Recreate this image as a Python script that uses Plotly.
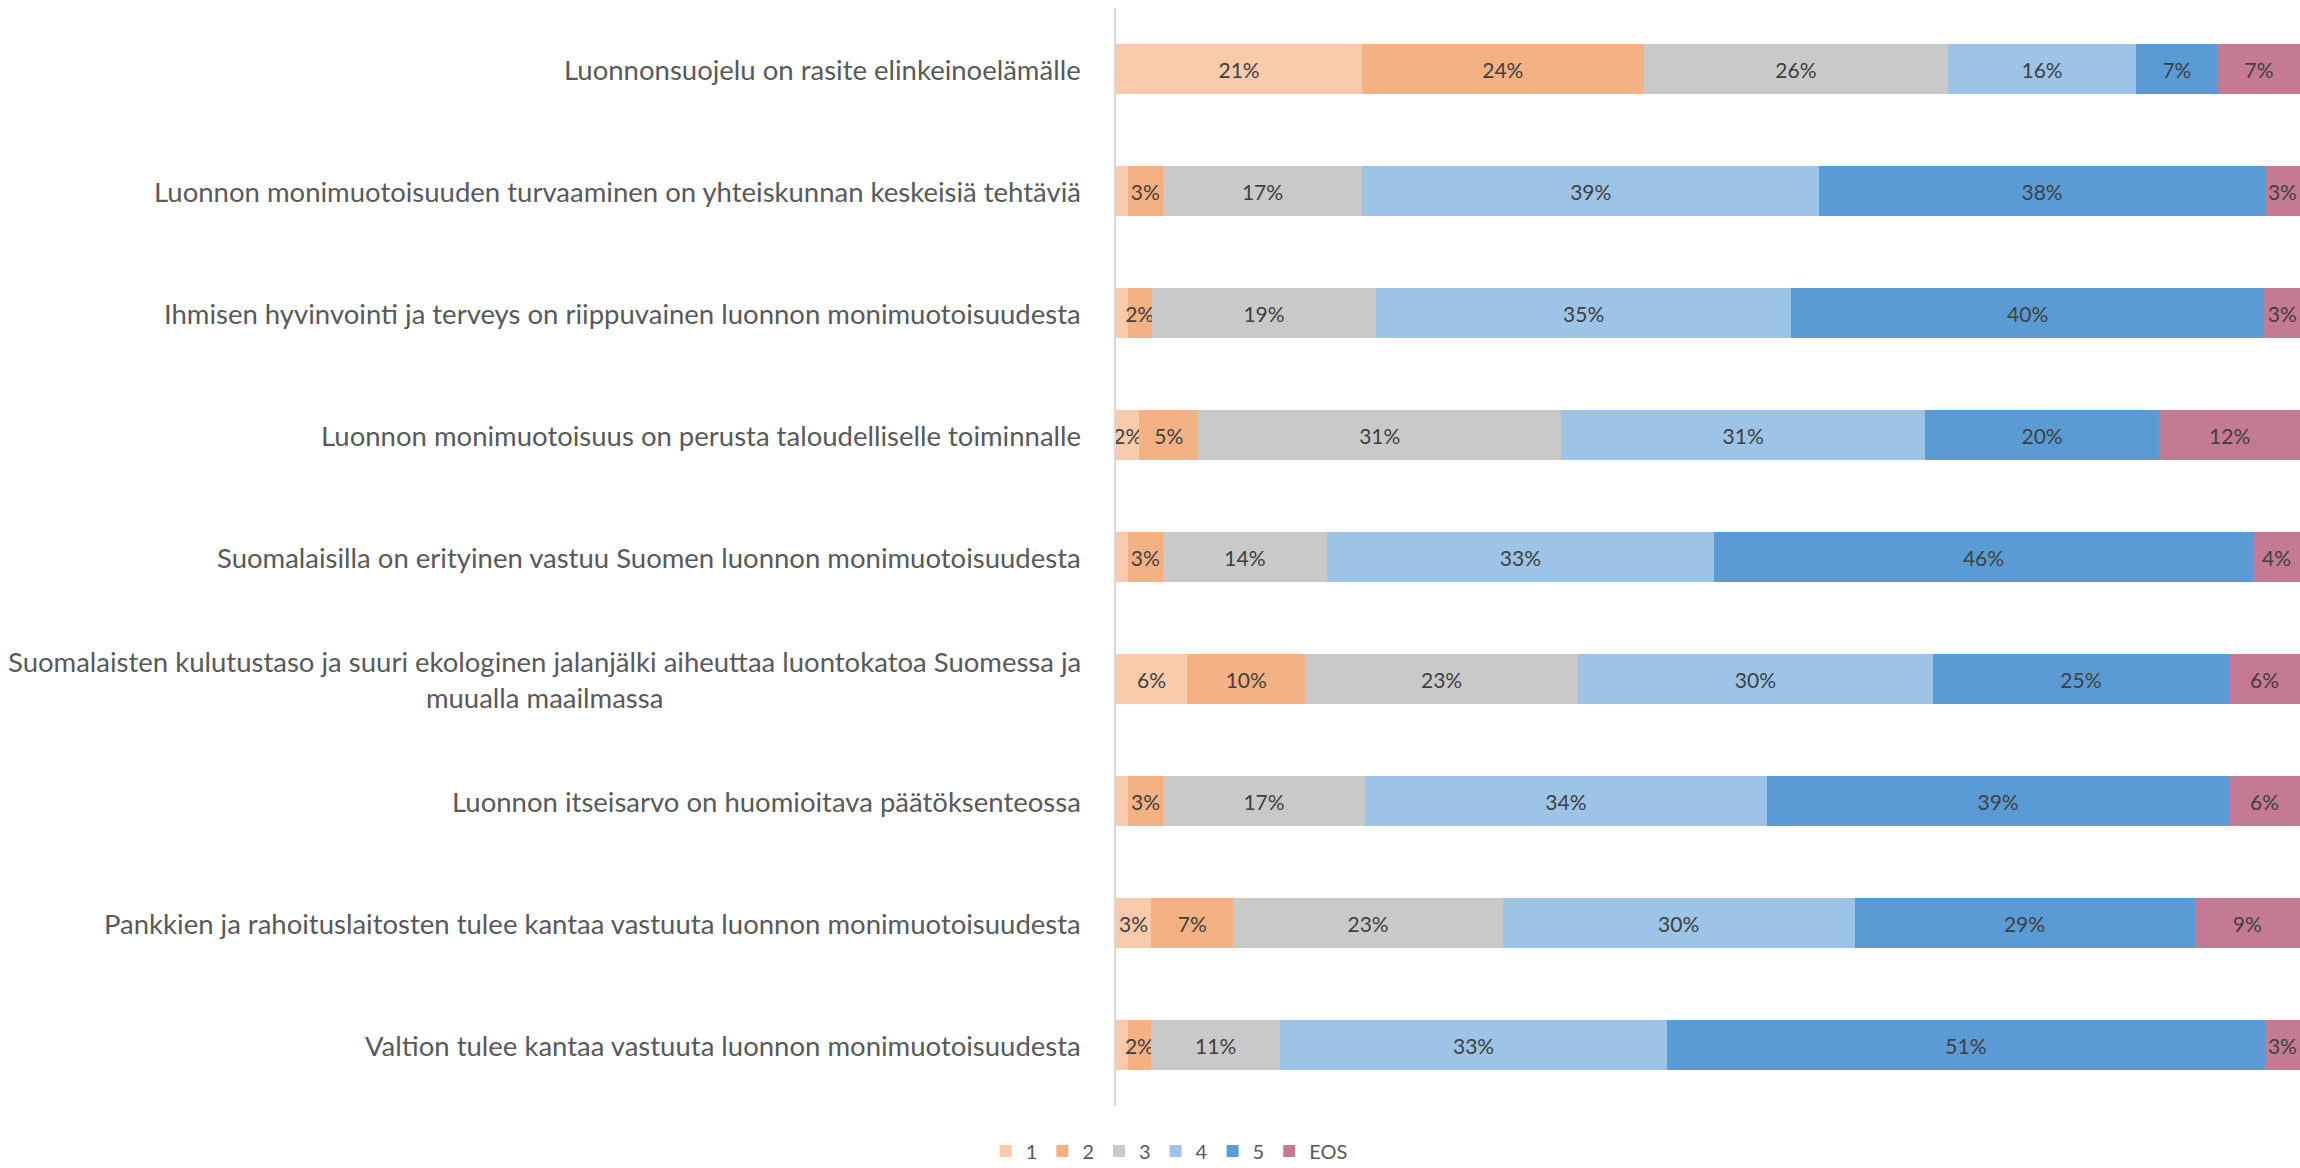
import plotly.graph_objects as go

# väittämät (ylhäältä alas)
vaittamat = [
    "Luonnonsuojelu on rasite elinkeinoelämälle",
    "Luonnon monimuotoisuuden turvaaminen on yhteiskunnan keskeisiä tehtäviä",
    "Ihmisen hyvinvointi ja terveys on riippuvainen luonnon monimuotoisuudesta",
    "Luonnon monimuotoisuus on perusta taloudelliselle toiminnalle",
    "Suomalaisilla on erityinen vastuu Suomen luonnon monimuotoisuudesta",
    "Suomalaisten kulutustaso ja suuri ekologinen jalanjälki aiheuttaa luontokatoa Suomessa ja<br>muualla maailmassa",
    "Luonnon itseisarvo on huomioitava päätöksenteossa",
    "Pankkien ja rahoituslaitosten tulee kantaa vastuuta luonnon monimuotoisuudesta",
    "Valtion tulee kantaa vastuuta luonnon monimuotoisuudesta",
]

# vastausten osuudet (%) per luokka
v1 = [21, 1, 1, 2, 1, 6, 1, 3, 1]
v2 = [24, 3, 2, 5, 3, 10, 3, 7, 2]
v3 = [26, 17, 19, 31, 14, 23, 17, 23, 11]
v4 = [16, 39, 35, 31, 33, 30, 34, 30, 33]
v5 = [7, 38, 40, 20, 46, 25, 39, 29, 51]
eos = [7, 3, 3, 12, 4, 6, 6, 9, 3]

luokat = ["1", "2", "3", "4", "5", "EOS"]
sarjat = [v1, v2, v3, v4, v5, eos]
varit = ["#F8CBAD", "#F4B183", "#C9C9C9", "#9DC3E6", "#5B9BD5", "#C47A93"]

fig = go.Figure()
for nimi, arvot, vari in zip(luokat, sarjat, varit):
    # pienimpiä (1 %) osuuksia ei ole merkitty
    tekstit = [f"{a}%" if a > 1 else "" for a in arvot]
    fig.add_trace(go.Bar(
        y=vaittamat,
        x=arvot,
        name=nimi,
        orientation="h",
        marker=dict(color=vari, line=dict(width=0)),
        text=tekstit,
        textposition="inside",
        insidetextanchor="middle",
        textangle=0,
        textfont=dict(family="Lato", size=21, color="#404040"),
        cliponaxis=False,
        hoverinfo="name+x",
    ))

# otsikot vasemmalle, keskitetty monirivisenä
for v in vaittamat:
    fig.add_annotation(
        x=0, xref="paper", y=v, yref="y",
        text=v, showarrow=False,
        xanchor="right", xshift=-33, align="center",
        font=dict(family="Lato", size=27.5, color="#595959"),
    )

fig.update_layout(
    width=2300, height=1168,
    barmode="stack", barnorm="fraction", bargap=0.59,
    plot_bgcolor="white", paper_bgcolor="white",
    margin=dict(l=1116, r=0, t=8, b=62, autoexpand=False),
    font=dict(family="Lato", color="#595959"),
    showlegend=True,
    legend=dict(
        orientation="h", x=0.045, xanchor="center",
        y=-0.041, yanchor="middle",
        font=dict(family="Lato", size=20, color="#595959"),
        traceorder="normal",
    ),
    uniformtext=dict(mode="show", minsize=21),
)
fig.update_xaxes(range=[0, 1], visible=False, showgrid=False)
fig.update_yaxes(
    autorange="reversed", showticklabels=False, ticks="",
    showline=True, linecolor="#D9D9D9", linewidth=2, showgrid=False,
)

# sivun oletusmarginaali pois, jotta kuva täyttää ikkunan
fig.write_html("out.html", config={"displayModeBar": False},
               post_script="document.body.style.margin='0';document.body.style.overflow='hidden';")
